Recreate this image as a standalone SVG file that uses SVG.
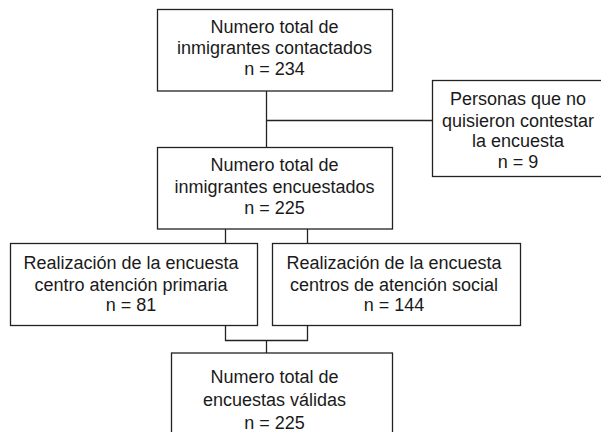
<svg xmlns="http://www.w3.org/2000/svg" width="601" height="432" viewBox="0 0 601 432">
<style>
.box{fill:#fff;stroke:#222;stroke-width:1.3}
.ln{fill:none;stroke:#222;stroke-width:1.3}
text{font-family:"Liberation Sans",Arial,Helvetica,sans-serif;font-size:18px;fill:#1a1a1a;text-anchor:middle}
</style>
<rect width="601" height="432" fill="#fff"/>
<g id="connectors">
<path class="ln" d="M266.5,91 V147.5"/>
<path class="ln" d="M266.5,120.5 H432.5"/>
<path class="ln" d="M225.5,229 V243.5"/>
<path class="ln" d="M307.5,229 V243.5"/>
<path class="ln" d="M225.5,325.5 V340.5 H307.5 V325.5"/>
<path class="ln" d="M266.5,340.5 V353"/>
</g>
<g id="n1">
<rect class="box" x="157.5" y="9.5" width="235" height="81.5"/>
<text x="274.5" y="32.5">Numero total de</text>
<text x="274.5" y="54">inmigrantes contactados</text>
<text x="274.5" y="75">n = 234</text>
</g>
<g id="n2">
<rect class="box" x="432.5" y="80.5" width="175" height="96"/>
<text x="518" y="105">Personas que no</text>
<text x="518" y="126.5">quisieron contestar</text>
<text x="518" y="147">la encuesta</text>
<text x="518" y="167.5">n = 9</text>
</g>
<g id="n3">
<rect class="box" x="157.5" y="147.5" width="235" height="81.5"/>
<text x="274.5" y="171">Numero total de</text>
<text x="274.5" y="192.5">inmigrantes encuestados</text>
<text x="274.5" y="214">n = 225</text>
</g>
<g id="n4">
<rect class="box" x="10.5" y="243.5" width="247" height="82"/>
<text x="131" y="269">Realización de la encuesta</text>
<text x="131" y="290.5">centro atención primaria</text>
<text x="131" y="311">n = 81</text>
</g>
<g id="n5">
<rect class="box" x="272.5" y="243.5" width="248" height="82"/>
<text x="394" y="269">Realización de la encuesta</text>
<text x="394" y="290.5">centros de atención social</text>
<text x="394" y="311">n = 144</text>
</g>
<g id="n6">
<rect class="box" x="171.5" y="353" width="221" height="90"/>
<text x="274.5" y="383">Numero total de</text>
<text x="274.5" y="406">encuestas válidas</text>
<text x="274.5" y="429">n = 225</text>
</g>
</svg>
